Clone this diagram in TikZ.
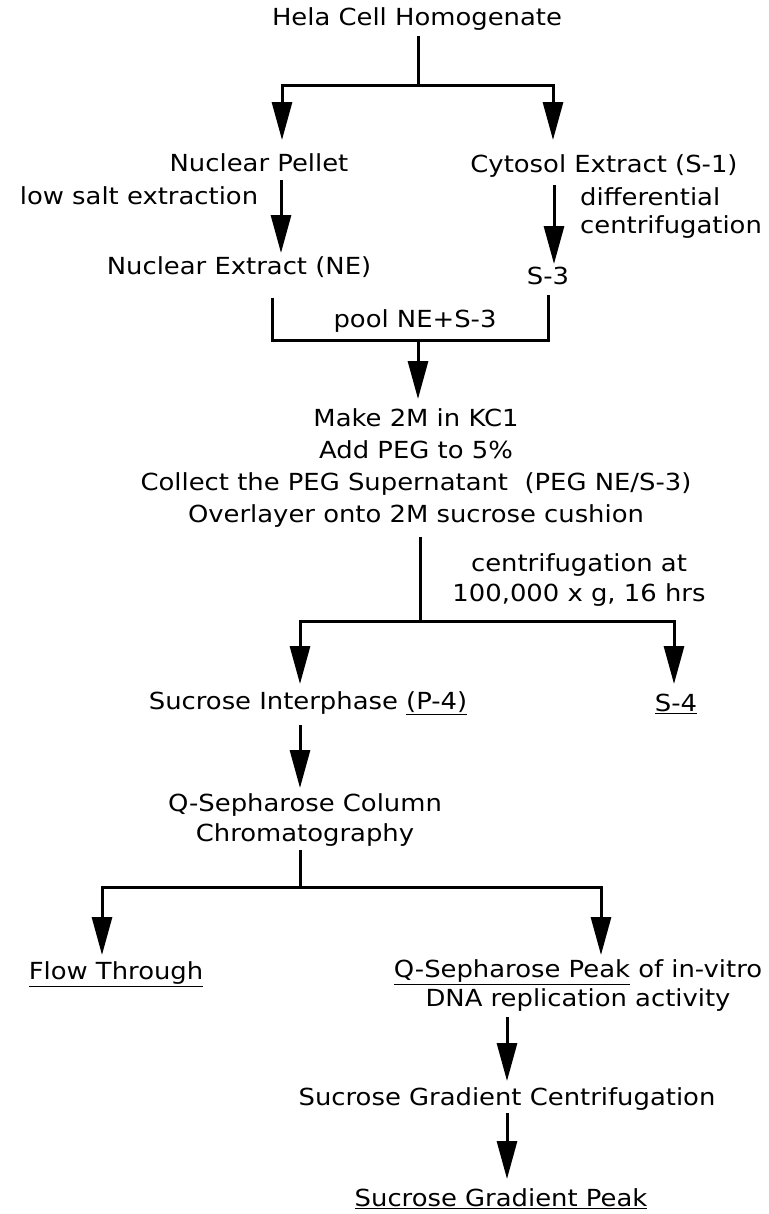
\documentclass[tikz,border=0pt]{standalone}
\usepackage{fontspec}
\setmainfont{DejaVu Sans}[FakeStretch=1.1]
\usetikzlibrary{arrows.meta}
\tikzset{
  txt/.style={inner sep=1bp, font=\fontsize{23.5bp}{33bp}\selectfont, text=black},
  ln/.style={line width=3bp, black},
  arr/.style={ln, -{Triangle[length=38bp,width=20bp]}},
}
\begin{document}
\begin{tikzpicture}[x=1bp,y=-1bp]
\useasboundingbox (0,0) rectangle (769,1214);
% nodes
\node[txt] (hela) at (417,19) {Hela Cell Homogenate};
\node[txt] (np) at (259,163) {Nuclear Pellet};
\node[txt] (cy) at (604,166) {Cytosol Extract (S-1)};
\node[txt] (lse) at (139,196) {low salt extraction};
\node[txt, align=left, anchor=west] (dc) at (579,213) {differential\\[-5bp]centrifugation};
\node[txt] (ne) at (239,267) {Nuclear Extract (NE)};
\node[txt] (s3) at (548,276) {S-3};
\node[txt] (pool) at (415,321) {pool NE+S-3};
\node[txt, align=center] (peg) at (416,468) {Make 2M in KC1\\[-1bp]Add PEG to 5\%\\[-1bp]Collect the PEG Supernatant\ \ (PEG NE/S-3)\\[-1bp]Overlayer onto 2M sucrose cushion};
\node[txt, align=center] (cent) at (579,580) {centrifugation at\\[-3bp]100,000 x g, 16 hrs};
\node[txt] (sip) at (308,703) {Sucrose Interphase \underline{(P-4)}};
\node[txt] (s4) at (676,704) {\underline{S-4}};
\node[txt, align=center] (qsc) at (305,820) {Q-Sepharose Column\\[-3bp]Chromatography};
\node[txt] (ft) at (116,974) {\underline{Flow Through}};
\node[txt, align=center] (qsp) at (578,986) {\underline{Q-Sepharose Peak} of in-vitro\\[-4bp]DNA replication activity};
\node[txt] (sgc) at (507,1099) {Sucrose Gradient Centrifugation};
\node[txt] (sgp) at (501,1199) {\underline{Sucrose Gradient Peak}};
% junction coordinates
\coordinate (h0) at (418,36);
\coordinate (j1) at (418,85);
\coordinate (npT) at (282,140);
\coordinate (cyT) at (553,140);
\coordinate (np0) at (281,180);
\coordinate (neT) at (281,253);
\coordinate (cy0) at (554,185);
\coordinate (s3T) at (554,264);
\coordinate (bl) at (272,298);
\coordinate (br) at (548,295);
\coordinate (bm) at (418,340);
\coordinate (pegT) at (418,399);
\coordinate (peg0) at (420,537);
\coordinate (j2) at (420,621);
\coordinate (sipT) at (300,684);
\coordinate (s4T) at (674,684);
\coordinate (sip0) at (300,725);
\coordinate (qscT) at (300,788);
\coordinate (qsc0) at (300,850);
\coordinate (j3) at (300,887);
\coordinate (ftT) at (102,955);
\coordinate (qspT) at (601,955);
\coordinate (qsp0) at (507,1017);
\coordinate (sgcT) at (507,1081);
\coordinate (sgc0) at (507,1113);
\coordinate (sgpT) at (507,1179);
% connectors
\draw[ln] (h0) -- (j1);
\draw[arr] (j1) -| (npT);
\draw[arr] (j1) -| (cyT);
\draw[arr] (np0) -- (neT);
\draw[arr] (cy0) -- (s3T);
\draw[ln] (bl) |- (bm) -| (br);
\draw[arr] (bm) -- (pegT);
\draw[ln] (peg0) -- (j2);
\draw[arr] (j2) -| (sipT);
\draw[arr] (j2) -| (s4T);
\draw[arr] (sip0) -- (qscT);
\draw[ln] (qsc0) -- (j3);
\draw[arr] (j3) -| (ftT);
\draw[arr] (j3) -| (qspT);
\draw[arr] (qsp0) -- (sgcT);
\draw[arr] (sgc0) -- (sgpT);
\end{tikzpicture}
\end{document}
